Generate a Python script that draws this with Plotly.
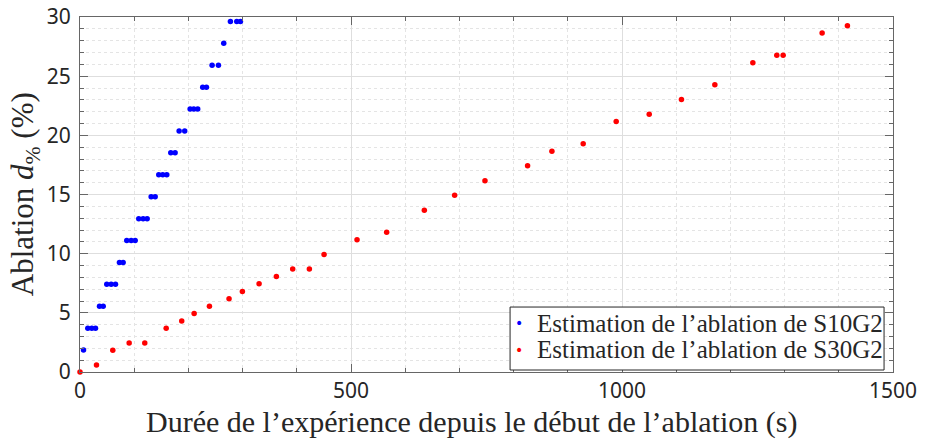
import plotly.graph_objects as go

# S10G2 (blue)
s10_t = [6.5, 14.4, 21.8, 28.6, 36, 42.8, 49.4, 57.5, 65.5, 72.8, 79.6, 86.3, 94.4, 101.8,
         108.4, 116.5, 123.9, 131.3, 138.7, 145.3, 152.7, 160.1, 167.5, 175.5, 182.9, 193.2,
         203.2, 209.9, 217.2, 226.4, 233.3, 243.7, 255.4, 265.2, 277.5, 289.2, 296]
s10_d = [1.85, 3.70, 3.70, 3.70, 5.56, 5.56, 7.41, 7.41, 7.41, 9.26, 9.26, 11.11, 11.11, 11.11,
         12.96, 12.96, 12.96, 14.81, 14.81, 16.67, 16.67, 16.67, 18.52, 18.52, 20.37, 20.37,
         22.22, 22.22, 22.22, 24.07, 24.07, 25.93, 25.93, 27.78, 29.63, 29.63, 29.63]

# S30G2 (red)
s30_t = [0, 30.4, 60.5, 90.7, 119.5, 159, 187.7, 210.6, 238.8, 275, 299.6, 330.4, 362.3, 392.4,
         423.2, 450.3, 511.1, 565.8, 635.3, 691.2, 747.2, 825.8, 870.7, 928.4, 989.3, 1050.2,
         1109.7, 1171.3, 1241.4, 1285.6, 1297.3, 1369.2, 1415.9]
s30_d = [0, 0.60, 1.84, 2.46, 2.46, 3.70, 4.32, 4.94, 5.56, 6.18, 6.80, 7.45, 8.07, 8.70,
         8.70, 9.94, 11.18, 11.80, 13.67, 14.93, 16.16, 17.42, 18.66, 19.28, 21.17, 21.79,
         23.03, 24.28, 26.14, 26.76, 26.76, 28.65, 29.27]

series_names = ["Estimation de l’ablation de S10G2", "Estimation de l’ablation de S30G2"]
series_colors = ["#0000ff", "#ff0000"]
x_title = "Durée de l’expérience depuis le début de l’ablation (s)"
y_title = "Ablation <i>d</i><sub>%</sub> (%)"

SERIF = "Liberation Serif"
TICKFONT = "Noto Sans"
TXT = "#262626"

fig = go.Figure()
fig.add_trace(go.Scatter(x=s10_t, y=s10_d, mode="markers", name=series_names[0],
                         marker=dict(color=series_colors[0], size=5.5), cliponaxis=False))
fig.add_trace(go.Scatter(x=s30_t, y=s30_d, mode="markers", name=series_names[1],
                         marker=dict(color=series_colors[1], size=5.5), cliponaxis=False))

axis_common = dict(
    showline=True, linecolor="#666666", linewidth=1, mirror="allticks",
    ticks="inside", ticklen=8, tickcolor="#666666",
    showgrid=True, gridcolor="#dedede", gridwidth=1,
    zeroline=False, automargin=False, ticklabeloverflow="allow",
    tickfont=dict(family=TICKFONT, size=21, color=TXT),
)

fig.update_xaxes(range=[0, 1500], tick0=0, dtick=500,
                 minor=dict(dtick=100, ticks="inside", ticklen=4, tickcolor="#666666",
                            showgrid=True, gridcolor="#e4e4e4", griddash="dot"),
                 **axis_common)
fig.update_yaxes(range=[0, 30], tick0=0, dtick=5, ticklabelstandoff=4,
                 minor=dict(dtick=1, ticks="inside", ticklen=4, tickcolor="#666666",
                            showgrid=True, gridcolor="#e4e4e4", griddash="dot"),
                 **axis_common)

fig.add_annotation(text=x_title, xref="paper", yref="paper", x=0.4815, y=-0.142,
                   xanchor="center", yanchor="middle", showarrow=False,
                   font=dict(family=SERIF, size=30, color=TXT))
fig.add_annotation(text=y_title, xref="paper", yref="paper", x=-0.068, y=0.5,
                   xanchor="center", yanchor="middle", showarrow=False, textangle=-90,
                   font=dict(family=SERIF, size=31, color=TXT))

# Legend box drawn by hand (MATLAB-style compact legend)
fig.add_shape(type="rect", xref="paper", yref="paper", x0=0.529, x1=0.989, y0=0.0056, y1=0.183,
              line=dict(color=TXT, width=1), fillcolor="white", layer="above")
for i, (name, col) in enumerate(zip(series_names, series_colors)):
    yy = [0.138, 0.062][i]
    fig.add_annotation(text="•", xref="paper", yref="paper", x=0.540, y=yy,
                       xanchor="center", yanchor="middle", showarrow=False,
                       font=dict(family="DejaVu Sans", size=14, color=col))
    fig.add_annotation(text=name, xref="paper", yref="paper", x=0.5597, y=yy,
                       xanchor="left", yanchor="middle", showarrow=False,
                       font=dict(family=SERIF, size=25, color=TXT))

fig.update_layout(
    width=925, height=443,
    margin=dict(l=80, r=32, t=17, b=71, autoexpand=False),
    plot_bgcolor="white", paper_bgcolor="white",
    showlegend=False,
)

fig.write_html("out.html", config={"displayModeBar": False},
               post_script="document.body.style.margin='0';")
